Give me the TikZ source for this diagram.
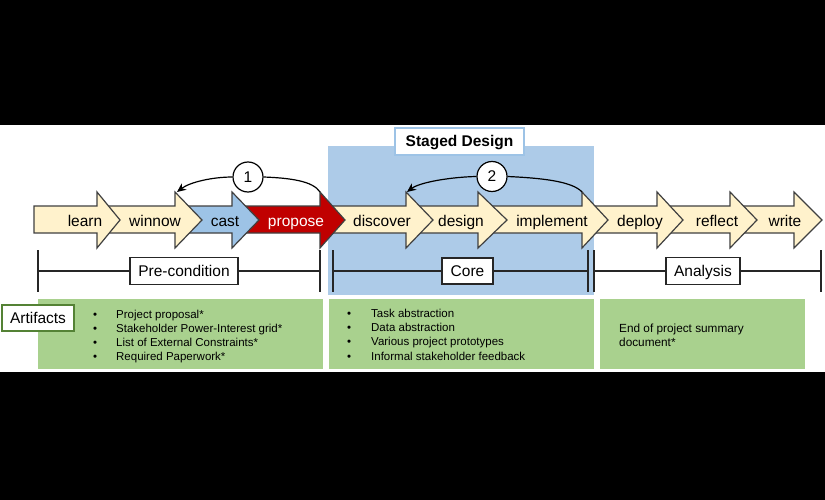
\documentclass[tikz,border=0pt]{standalone}
\usepackage{fontspec}
\setmainfont{Liberation Sans}
\usetikzlibrary{arrows.meta}
\definecolor{cream}{HTML}{FFF2CC}
\definecolor{castblue}{HTML}{9DC3E6}
\definecolor{propred}{HTML}{C00000}
\definecolor{stageblue}{HTML}{ADCBE8}
\definecolor{artgreen}{HTML}{A9D18E}
\definecolor{artdark}{HTML}{548235}
\definecolor{outl}{HTML}{404040}
\newcommand{\mychev}[4]{\draw[#1] (#2,206) -- (#3,206) -- (#3,192) -- (#4,220) -- (#3,248) -- (#3,233) -- (#2,233) -- cycle;}
\tikzset{
  chevcream/.style={fill=cream, draw=outl, line width=1.2pt, line join=miter},
  chevblue/.style={fill=castblue, draw=outl, line width=1.2pt},
  chevred/.style={fill=propred, draw=outl, line width=1.2pt},
  albl/.style={font=\fontsize{15.5}{18}\selectfont, inner sep=0pt, anchor=base},
  brk/.style={draw=black!85, line width=1.4pt},
  phasebox/.style={draw=black!85, line width=1.4pt, fill=white, inner sep=0pt, text height=11.5pt, text depth=0.5pt, font=\fontsize{15.5}{18}\selectfont},
  greenbox/.style={fill=artgreen, inner sep=0pt, outer sep=0pt},
  numcirc/.style={circle, draw=black, line width=1.2pt, fill=white, minimum size=30pt, inner sep=0pt, font=\fontsize{15.5}{18}\selectfont},
  loopline/.style={draw=black, line width=1.2pt},
  listtxt/.style={anchor=west, align=left, inner sep=0pt, font=\fontsize{11.5}{14.3}\selectfont},
}
\begin{document}
\begin{tikzpicture}[x=1pt,y=-1pt]
\useasboundingbox (0,0) rectangle (825,500);
\fill[black] (0,0) rectangle (825,125);
\fill[white] (0,125) rectangle (825,372);
\fill[black] (0,372) rectangle (825,500);

% staged design background
\node[fill=stageblue, inner sep=0pt, outer sep=0pt, minimum width=266pt, minimum height=149pt] (sd) at (461,220.5) {};
\node[draw=castblue, line width=1.4pt, fill=white, minimum width=129pt, minimum height=27pt, inner sep=0pt, text height=11.5pt, text depth=0.5pt, font=\bfseries\fontsize{15.5}{18}\selectfont] (sdlbl) at (459.5,141.5) {Staged Design};

% chevrons, right to left
\mychev{chevcream}{732}{794}{822}
\mychev{chevcream}{659}{730}{757}
\mychev{chevcream}{584}{657}{683}
\mychev{chevcream}{480}{582}{608}
\mychev{chevcream}{408}{478}{507}
\mychev{chevcream}{322}{406}{433}
\mychev{chevred}{234}{320}{345}
\mychev{chevblue}{177}{232}{259}
\mychev{chevcream}{99}{175}{202}
\mychev{chevcream}{34}{97}{120}

\node[albl] (tlearn) at (85,226) {learn};
\node[albl] (twinnow) at (155,226) {winnow};
\node[albl] (tcast) at (225,226) {cast};
\node[albl, text=white] (tpropose) at (296,226) {propose};
\node[albl] (tdiscover) at (382,226) {discover};
\node[albl] (tdesign) at (461,226) {design};
\node[albl] (timplement) at (552,226) {implement};
\node[albl] (tdeploy) at (640,226) {deploy};
\node[albl] (treflect) at (717,226) {reflect};
\node[albl] (twrite) at (785,226) {write};

% loops
\coordinate (p1s) at (320,192);
\coordinate (p1e) at (177,192);
\coordinate (p2s) at (582,192);
\coordinate (p2e) at (407,192);
\node[numcirc] (c1) at (248,177) {1};
\node[numcirc] (c2) at (492,176.5) {2};
\draw[loopline] (c1.east) .. controls (290,178) and (313,181) .. (p1s);
\draw[loopline, -{Stealth[length=9pt,width=8pt]}] (c1.west) .. controls (213,177) and (190,182) .. (p1e);
\draw[loopline] (c2.east) .. controls (540,178) and (572,181) .. (p2s);
\draw[loopline, -{Stealth[length=9pt,width=8pt]}] (c2.west) .. controls (452,177) and (420,182) .. (p2e);

% brackets
\coordinate (pcL) at (38,271);
\coordinate (pcR) at (320,271);
\coordinate (coL) at (333,271);
\coordinate (coR) at (588,271);
\coordinate (anL) at (594,271);
\coordinate (anR) at (821,271);
\foreach \c in {pcL,pcR,coL,coR,anL,anR}{
  \draw[brk] ([yshift=21pt]\c) -- ([yshift=-21pt]\c);
}
\node[phasebox, minimum width=108pt, minimum height=27pt] (pcbox) at (184,271) {Pre-condition};
\node[phasebox, minimum width=51pt, minimum height=26pt] (cobox) at (467.5,271) {Core};
\node[phasebox, minimum width=74pt, minimum height=27pt] (anbox) at (703,271) {Analysis};
\draw[brk] (pcL) -- (pcbox.west);
\draw[brk] (pcbox.east) -- (pcR);
\draw[brk] (coL) -- (cobox.west);
\draw[brk] (cobox.east) -- (coR);
\draw[brk] (anL) -- (anbox.west);
\draw[brk] (anbox.east) -- (anR);

% artifact boxes
\node[greenbox, minimum width=285pt, minimum height=70pt] (g1) at (180.5,334) {};
\node[greenbox, minimum width=265pt, minimum height=70pt] (g2) at (461.5,334) {};
\node[greenbox, minimum width=205pt, minimum height=70pt] (g3) at (702.5,334) {};

\node[draw=artdark, line width=2.5pt, fill=white, minimum width=72pt, minimum height=26pt, inner sep=0pt, text height=11.5pt, text depth=0.5pt, font=\fontsize{15.5}{18}\selectfont] (art) at (38,318) {Artifacts};

\node[listtxt] (l1) at (93,336.5) {\makebox[23pt][l]{•}Project proposal*\\
\makebox[23pt][l]{•}Stakeholder Power-Interest grid*\\
\makebox[23pt][l]{•}List of External Constraints*\\
\makebox[23pt][l]{•}Required Paperwork*};
\node[listtxt] (l2) at (347,334.5) {\makebox[24pt][l]{•}Task abstraction\\
\makebox[24pt][l]{•}Data abstraction\\
\makebox[24pt][l]{•}Various project prototypes\\
\makebox[24pt][l]{•}Informal stakeholder feedback};
\node[listtxt, font=\fontsize{11.8}{13.5}\selectfont] (l3) at (619,335.5) {End of project summary\\document*};
\end{tikzpicture}
\end{document}
